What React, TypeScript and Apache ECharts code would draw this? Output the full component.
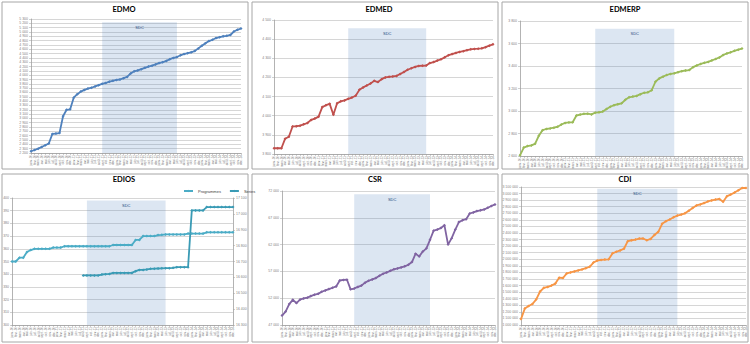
import React, { useEffect, useRef } from "react";
import * as echarts from "echarts";

// Category (tick) labels: monthly dates
const months = ["janv.", "févr.", "mars", "avr.", "mai", "juin", "juil.", "août", "sept.", "oct.", "nov.", "déc."];
const years = ["10", "11", "12", "13", "14"];
const categories = years.flatMap((y) => months.map((m) => `${m}-${y}`));

const sdcStart = 20;
const sdcEnd = 41;

const edmo = [2240, 2270, 2300, 2340, 2380, 2420, 2640, 2650, 2660, 3050, 3200, 3210, 3480, 3560, 3620, 3660, 3690, 3710, 3740, 3770, 3800, 3820, 3850, 3870, 3890, 3900, 3930, 3960, 4040, 4090, 4110, 4140, 4170, 4200, 4220, 4250, 4280, 4300, 4330, 4370, 4400, 4420, 4460, 4490, 4510, 4530, 4560, 4620, 4680, 4740, 4790, 4820, 4860, 4880, 4900, 4910, 4930, 5010, 5050, 5080];

const edmed = [3830, 3830, 3830, 3880, 3890, 3944, 3945, 3948, 3955, 3962, 3978, 3985, 3995, 4045, 4055, 4062, 4005, 4065, 4075, 4080, 4088, 4095, 4104, 4135, 4148, 4158, 4168, 4182, 4176, 4191, 4200, 4203, 4205, 4208, 4218, 4228, 4240, 4248, 4255, 4260, 4261, 4262, 4275, 4280, 4288, 4295, 4305, 4316, 4322, 4328, 4333, 4337, 4342, 4347, 4349, 4350, 4352, 4358, 4366, 4373];

const edmerp = [2606, 2675, 2688, 2694, 2708, 2780, 2830, 2840, 2845, 2852, 2860, 2880, 2894, 2898, 2900, 2960, 2968, 2975, 2976, 2970, 2985, 2988, 2995, 3018, 3038, 3052, 3060, 3068, 3100, 3122, 3128, 3134, 3150, 3162, 3166, 3185, 3260, 3290, 3305, 3320, 3330, 3335, 3345, 3354, 3360, 3364, 3390, 3405, 3418, 3428, 3436, 3450, 3462, 3476, 3498, 3512, 3522, 3535, 3545, 3555];

const ediosProgrammes = [350, 350, 353, 353, 357.5, 359, 360, 360, 360, 360, 360, 361, 361, 361, 362, 362, 362, 362, 362, 362, 362, 362, 362, 362, 362, 362, 362, 363, 363, 363, 363, 363, 363, 367, 367, 370, 370, 370, 370, 370.8, 371, 371.3, 371.3, 371.3, 371.3, 371.3, 371.3, 372, 372, 372, 372, 372, 373, 373, 373, 373, 373, 373, 373, 373];

const ediosSeries = [null, null, null, null, null, null, null, null, null, null, null, null, null, null, null, null, null, null, null, 16612, 16612, 16612, 16612, 16612, 16618, 16620, 16622, 16628, 16628, 16628, 16628, 16628, 16628, 16639, 16647, 16647, 16650, 16654, 16655, 16656, 16657, 16658, 16658, 16660, 16664, 16664, 16664, 16664, 17022, 17022, 17022, 17022, 17043, 17043, 17043, 17043, 17043, 17043, 17043, 17043];

const csr = [48750, 49500, 50900, 51700, 51100, 51750, 51950, 52100, 52400, 52650, 52810, 53200, 53450, 53700, 53950, 54200, 55300, 55400, 55440, 53650, 53800, 54100, 54350, 54900, 55250, 55500, 55750, 56200, 56560, 56800, 57100, 57400, 57550, 57750, 57950, 58250, 58750, 60300, 59800, 60700, 61300, 62900, 64600, 64800, 65100, 65600, 62000, 63200, 64800, 66200, 66550, 66750, 67800, 68000, 68250, 68400, 68550, 68870, 69200, 69500];

const cdi = [1090000, 1250000, 1290000, 1320000, 1390000, 1510000, 1565000, 1580000, 1600000, 1630000, 1720000, 1715000, 1785000, 1800000, 1815000, 1830000, 1845000, 1865000, 1886000, 1950000, 1980000, 1990000, 1995000, 2000000, 2090000, 2115000, 2135000, 2160000, 2275000, 2288000, 2300000, 2315000, 2316000, 2290000, 2310000, 2370000, 2418000, 2540000, 2580000, 2605000, 2640000, 2665000, 2680000, 2700000, 2740000, 2780000, 2820000, 2835000, 2855000, 2880000, 2895000, 2908000, 2918000, 2875000, 2960000, 2985000, 3015000, 3050000, 3085000, 3085000];

const fmt = (v: number) => String(v).replace(/\B(?=(\d{3})+(?!\d))/g, " ");

const panels = [
  { title: "EDMO", data: edmo, color: "#4f81bd", min: 2200, max: 5300, interval: 100, sdcTop: 5225, grid: { left: 31, top: 19, width: 210, height: 134 }, tx: 124, ty: 9 },
  { title: "EDMED", data: edmed, color: "#c0504d", min: 3800, max: 4500, interval: 100, sdcTop: 4457, grid: { left: 274, top: 20, width: 219, height: 134 }, tx: 379, ty: 9 },
  { title: "EDMERP", data: edmerp, color: "#9bbb59", min: 2600, max: 3800, interval: 200, sdcTop: 3732, grid: { left: 520, top: 21, width: 222, height: 135 }, tx: 625, ty: 9 },
  { title: "EDIOS", data: ediosProgrammes, color: "#4bacc6", min: 300, max: 400, interval: 10, sdcTop: 398, grid: { left: 12, top: 198, width: 221, height: 127 }, tx: 124, ty: 179 },
  { title: "CSR", data: csr, color: "#8064a2", min: 47000, max: 72000, interval: 5000, sdcTop: 71375, grid: { left: 282, top: 191, width: 213, height: 134 }, tx: 375, ty: 179 },
  { title: "CDI", data: cdi, color: "#f79646", min: 1000000, max: 3100000, interval: 100000, sdcTop: 3075000, grid: { left: 521, top: 187, width: 225, height: 138 }, tx: 625, ty: 179 },
];

const frames = [
  [2, 2, 246, 167],
  [252, 2, 246, 167],
  [502, 2, 246, 167],
  [2, 174, 246, 168],
  [252, 174, 246, 168],
  [502, 174, 246, 168],
];

export default function App() {
  const ref = useRef<HTMLDivElement>(null);
  useEffect(() => {
    if (!ref.current) return;
    const chart = echarts.init(ref.current, null, { renderer: "svg" });
    const axisGray = "#a0a0a0";
    const labelGray = "#7f7f7f";

    const grid = panels.map((p) => ({ ...p.grid, containLabel: false, outerBoundsMode: "none" }));
    const xAxis = panels.map((p, i) => ({
      gridIndex: i,
      type: "category",
      data: categories,
      boundaryGap: false,
      axisLabel: { interval: 0, rotate: 90, fontSize: 3, color: labelGray, margin: 2, fontFamily: "Liberation Sans" },
      axisTick: { show: true, length: 2, interval: 0, lineStyle: { color: axisGray, width: 0.5 } },
      axisLine: { lineStyle: { color: axisGray, width: 0.8 } },
    }));
    const yAxis: any[] = panels.map((p, i) => ({
      gridIndex: i,
      type: "value",
      min: p.min,
      max: p.max,
      interval: p.interval,
      axisLabel: { fontSize: 3.5, color: labelGray, formatter: fmt, margin: 3, fontFamily: "Liberation Sans" },
      splitLine: { lineStyle: { color: "#c4c4c4", width: 0.7 } },
      axisLine: { show: true, lineStyle: { color: axisGray, width: 0.8 } },
      axisTick: { show: true, length: 2, lineStyle: { color: axisGray, width: 0.5 } },
    }));
    yAxis.push({
      gridIndex: 3,
      type: "value",
      position: "right",
      min: 16300,
      max: 17100,
      interval: 100,
      axisLabel: { fontSize: 3.5, color: labelGray, formatter: fmt, margin: 3, fontFamily: "Liberation Sans" },
      splitLine: { show: false },
      axisLine: { show: true, lineStyle: { color: axisGray, width: 0.8 } },
      axisTick: { show: true, length: 2, lineStyle: { color: axisGray, width: 0.5 } },
    });

    const series: any[] = panels.map((p, i) => ({
      type: "line",
      name: i === 3 ? "Programmes" : p.title,
      xAxisIndex: i,
      yAxisIndex: i,
      data: p.data,
      symbol: "diamond",
      symbolSize: 3,
      lineStyle: { width: 1.8, color: p.color },
      itemStyle: { color: p.color },
      z: 3,
      markArea: {
        silent: true,
        itemStyle: { color: "rgba(79,129,189,0.2)" },
        label: { show: true, position: "insideTop", distance: 3, fontSize: 4, color: "#1f497d", fontFamily: "Liberation Sans" },
        data: [[{ name: "SDC", xAxis: sdcStart, yAxis: p.min }, { xAxis: sdcEnd, yAxis: p.sdcTop }]],
      },
    }));
    series.push({
      type: "line",
      name: "Series",
      xAxisIndex: 3,
      yAxisIndex: 6,
      data: ediosSeries,
      symbol: "diamond",
      symbolSize: 3,
      lineStyle: { width: 1.8, color: "#3a9bb5" },
      itemStyle: { color: "#3a9bb5" },
      z: 3,
    });

    const graphic: any[] = frames.map(([x, y, w, h]) => ({
      type: "rect",
      shape: { x, y, width: w, height: h },
      style: { fill: "none", stroke: "#a6a6a6", lineWidth: 1 },
      z: 0,
      silent: true,
    }));
    panels.forEach((p) => {
      graphic.push({
        type: "text",
        x: p.tx,
        y: p.ty,
        style: { text: p.title, fontSize: 7.5, fontWeight: "bold", fontFamily: "Lato", fill: "#000", align: "center", verticalAlign: "middle" },
        silent: true,
      });
    });

    chart.setOption({
      animation: false,
      backgroundColor: "#ffffff",
      grid,
      xAxis,
      yAxis,
      series,
      legend: {
        data: ["Programmes", "Series"],
        left: 178,
        top: 184,
        itemWidth: 9,
        itemHeight: 3,
        itemGap: 8,
        textStyle: { fontSize: 4, color: "#404040", fontFamily: "Liberation Sans" },
      },
      graphic,
    });
    return () => chart.dispose();
  }, []);
  return <div ref={ref} style={{ position: "absolute", left: 0, top: 0, width: 750, height: 344, background: "#fff" }} />;
}
